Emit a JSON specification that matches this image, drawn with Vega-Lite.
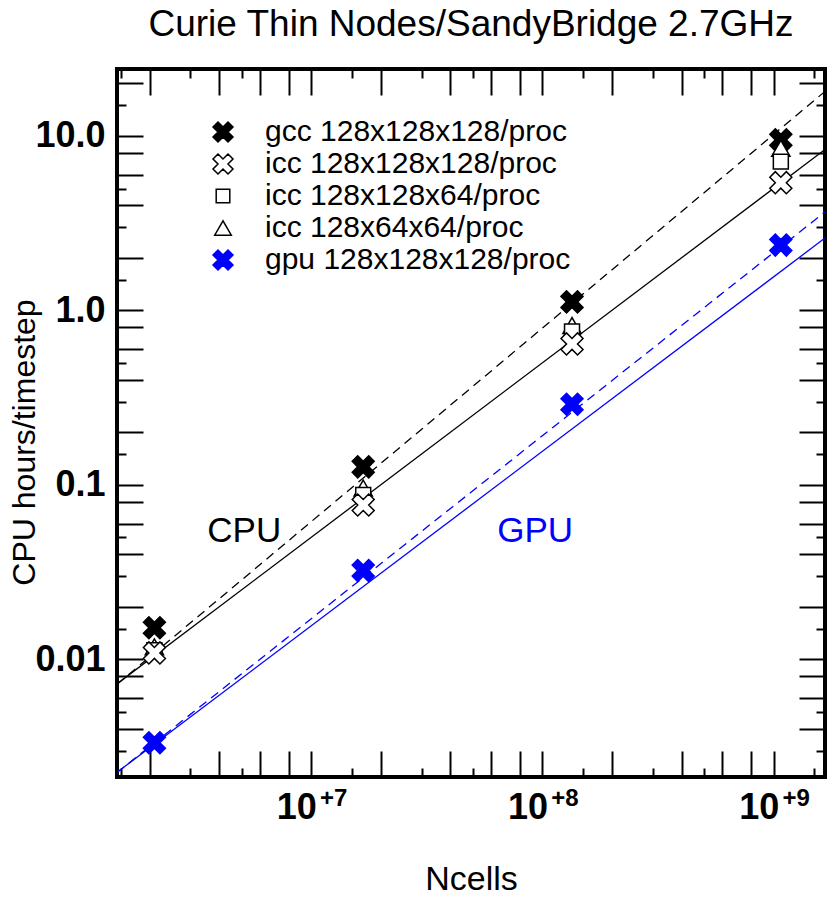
{
  "$schema": "https://vega.github.io/schema/vega-lite/v6.json",
  "width": 708,
  "height": 708,
  "autosize": {"type": "none"},
  "padding": {"left": 117, "top": 69, "right": 5, "bottom": 120},
  "background": "white",
  "config": {
    "font": "Liberation Sans",
    "view": {"stroke": "black", "strokeWidth": 4},
    "axis": {"grid": false, "domain": false, "labelColor": "black", "titleColor": "black", "tickColor": "black", "labelFlush": false, "labelOverlap": false}
  },
  "title": {"text": "Curie Thin Nodes/SandyBridge 2.7GHz", "fontSize": 37, "font": "Liberation Sans", "fontWeight": "normal", "color": "black", "anchor": "middle", "offset": 13},
  "datasets": {
    "pts": [
      {"series": "gcc 128x128x128/proc", "n": 2097152, "t": 0.0152},
      {"series": "gcc 128x128x128/proc", "n": 16777216, "t": 0.127},
      {"series": "gcc 128x128x128/proc", "n": 134217728, "t": 1.12},
      {"series": "gcc 128x128x128/proc", "n": 1073741824, "t": 9.5},
      {"series": "icc 128x64x64/proc", "n": 2097152, "t": 0.0118},
      {"series": "icc 128x64x64/proc", "n": 16777216, "t": 0.096},
      {"series": "icc 128x64x64/proc", "n": 134217728, "t": 0.82},
      {"series": "icc 128x64x64/proc", "n": 1073741824, "t": 8.5},
      {"series": "icc 128x128x64/proc", "n": 2097152, "t": 0.0113},
      {"series": "icc 128x128x64/proc", "n": 16777216, "t": 0.0877},
      {"series": "icc 128x128x64/proc", "n": 134217728, "t": 0.757},
      {"series": "icc 128x128x64/proc", "n": 1073741824, "t": 7.13},
      {"series": "icc 128x128x128/proc", "n": 2097152, "t": 0.0109},
      {"series": "icc 128x128x128/proc", "n": 16777216, "t": 0.0767},
      {"series": "icc 128x128x128/proc", "n": 134217728, "t": 0.643},
      {"series": "icc 128x128x128/proc", "n": 1073741824, "t": 5.4},
      {"series": "gpu 128x128x128/proc", "n": 2097152, "t": 0.00333},
      {"series": "gpu 128x128x128/proc", "n": 16777216, "t": 0.0323},
      {"series": "gpu 128x128x128/proc", "n": 134217728, "t": 0.29},
      {"series": "gpu 128x128x128/proc", "n": 1073741824, "t": 2.37}
    ],
    "fits": [
      {"fit": "cpu_solid", "n": 1445000, "t": 0.00724},
      {"fit": "cpu_solid", "n": 1667000000, "t": 8.36},
      {"fit": "cpu_dashed", "n": 1445000, "t": 0.0072},
      {"fit": "cpu_dashed", "n": 1667000000, "t": 18},
      {"fit": "gpu_solid", "n": 1445000, "t": 0.002254},
      {"fit": "gpu_solid", "n": 1667000000, "t": 2.6},
      {"fit": "gpu_dashed", "n": 1445000, "t": 0.00225},
      {"fit": "gpu_dashed", "n": 1667000000, "t": 3.67}
    ],
    "notes": [
      {"label": "CPU", "n": 3550000, "t": 0.0547},
      {"label": "GPU", "n": 63700000, "t": 0.0547}
    ]
  },
  "layer": [
    {
      "data": {"name": "fits"},
      "transform": [{"filter": "datum.fit === 'cpu_solid'"}],
      "mark": {"type": "line", "color": "black", "strokeWidth": 1.3, "clip": true},
      "encoding": {
        "x": {"field": "n", "type": "quantitative", "scale": {"type": "log", "domain": [1445000, 1667000000], "nice": false},
              "axis": {"orient": "bottom", "values": [2e6,4e6,6e6,8e6,1e7,2e7,4e7,6e7,8e7,1e8,2e8,4e8,6e8,8e8,1e9], "offset": -26, "ticks": true, "tickSize": 26, "tickWidth": 2, "labels": true, "labelExpr": "''", "title": ""}},
        "y": {"field": "t", "type": "quantitative", "scale": {"type": "log", "domain": [0.00212, 24.2], "nice": false},
              "axis": {"orient": "left", "values": [0.004,0.006,0.008,0.01,0.02,0.04,0.06,0.08,0.1,0.2,0.4,0.6,0.8,1,2,4,6,8,10,20], "offset": -26, "ticks": true, "tickSize": 26, "tickWidth": 2, "labels": true, "labelExpr": "''", "title": ""}}
      }
    },
    {
      "data": {"name": "fits"},
      "transform": [{"filter": "datum.fit === 'cpu_dashed'"}],
      "mark": {"type": "line", "color": "black", "strokeWidth": 1.3, "strokeDash": [9, 6], "clip": true},
      "encoding": {
        "x": {"field": "n", "type": "quantitative", "scale": {"type": "log", "domain": [1445000, 1667000000], "nice": false},
              "axis": {"orient": "bottom", "values": [1.5e6,3e6,5e6,1.5e7,3e7,5e7,1.5e8,3e8,5e8,1.5e9], "offset": -9, "ticks": true, "tickSize": 9, "tickWidth": 2, "labels": true, "labelExpr": "''", "title": ""}},
        "y": {"field": "t", "type": "quantitative", "scale": {"type": "log", "domain": [0.00212, 24.2], "nice": false},
              "axis": {"orient": "left", "values": [0.003,0.005,0.015,0.03,0.05,0.15,0.3,0.5,1.5,3,5,15], "offset": -9, "ticks": true, "tickSize": 9, "tickWidth": 2, "labels": true, "labelExpr": "''", "title": ""}}
      }
    },
    {
      "data": {"name": "fits"},
      "transform": [{"filter": "datum.fit === 'gpu_solid'"}],
      "mark": {"type": "line", "color": "#0000ff", "strokeWidth": 1.3, "clip": true},
      "encoding": {
        "x": {"field": "n", "type": "quantitative", "scale": {"type": "log", "domain": [1445000, 1667000000], "nice": false},
              "axis": {"orient": "bottom", "values": [1e7,1e8,1e9], "ticks": false, "labelExpr": "'10'", "labelFontSize": 36, "labelFontWeight": "bold", "labelPadding": 13, "labelOffset": -15,
                       "title": "Ncells", "titleFontSize": 34, "titleFontWeight": "normal", "titleX": 354, "titleY": 112, "titleBaseline": "alphabetic", "titleAlign": "center"}},
        "y": {"field": "t", "type": "quantitative", "scale": {"type": "log", "domain": [0.00212, 24.2], "nice": false},
              "axis": {"orient": "left", "values": [0.01,0.1,1,10], "ticks": false, "labelExpr": "datum.value == 10 ? '10.0' : datum.value == 1 ? '1.0' : datum.value == 0.1 ? '0.1' : '0.01'", "labelFontSize": 36, "labelFontWeight": "bold", "labelPadding": 12,
                       "title": "CPU hours/timestep", "titleFontSize": 32, "titleFontWeight": "normal", "titleX": -83, "titleY": 373, "titleBaseline": "alphabetic", "titleAlign": "center", "titleAngle": -90}}
      }
    },
    {
      "data": {"name": "fits"},
      "transform": [{"filter": "datum.fit === 'gpu_dashed'"}],
      "mark": {"type": "line", "color": "#0000ff", "strokeWidth": 1.3, "strokeDash": [9, 6], "clip": true},
      "encoding": {
        "x": {"field": "n", "type": "quantitative", "scale": {"type": "log", "domain": [1445000, 1667000000], "nice": false},
              "axis": {"orient": "bottom", "values": [1e7,1e8,1e9], "ticks": false, "labelExpr": "'+' + round(log(datum.value)/LN10)", "labelFontSize": 24, "labelFontWeight": "bold", "labelPadding": 9, "labelOffset": 22, "title": ""}},
        "y": {"field": "t", "type": "quantitative", "scale": {"type": "log", "domain": [0.00212, 24.2], "nice": false},
              "axis": {"orient": "right", "values": [0.004,0.006,0.008,0.01,0.02,0.04,0.06,0.08,0.1,0.2,0.4,0.6,0.8,1,2,4,6,8,10,20], "offset": -26, "ticks": true, "tickSize": 26, "tickWidth": 2, "labels": true, "labelExpr": "''", "title": ""}}
      }
    },
    {
      "data": {"name": "pts"},
      "mark": {"type": "point", "size": 484, "strokeWidth": 1.5, "opacity": 1, "clip": true},
      "encoding": {
        "x": {"field": "n", "type": "quantitative", "scale": {"type": "log", "domain": [1445000, 1667000000], "nice": false},
              "axis": {"orient": "top", "values": [2e6,4e6,6e6,8e6,1e7,2e7,4e7,6e7,8e7,1e8,2e8,4e8,6e8,8e8,1e9], "offset": -26, "ticks": true, "tickSize": 26, "tickWidth": 2, "labels": true, "labelExpr": "''", "title": ""}},
        "y": {"field": "t", "type": "quantitative", "scale": {"type": "log", "domain": [0.00212, 24.2], "nice": false},
              "axis": {"orient": "right", "values": [0.003,0.005,0.015,0.03,0.05,0.15,0.3,0.5,1.5,3,5,15], "offset": -9, "ticks": true, "tickSize": 9, "tickWidth": 2, "labels": true, "labelExpr": "''", "title": ""}},
        "shape": {"field": "series", "type": "nominal",
                  "scale": {"domain": ["gcc 128x128x128/proc", "icc 128x128x128/proc", "icc 128x128x64/proc", "icc 128x64x64/proc", "gpu 128x128x128/proc"],
                            "range": ["M -1,-0.5 L -0.5,-1 L 0,-0.5 L 0.5,-1 L 1,-0.5 L 0.5,0 L 1,0.5 L 0.5,1 L 0,0.5 L -0.5,1 L -1,0.5 L -0.5,0 Z",
                                      "M -1,-0.5 L -0.5,-1 L 0,-0.5 L 0.5,-1 L 1,-0.5 L 0.5,0 L 1,0.5 L 0.5,1 L 0,0.5 L -0.5,1 L -1,0.5 L -0.5,0 Z",
                                      "M -0.68,-0.68 L 0.68,-0.68 L 0.68,0.68 L -0.68,0.68 Z",
                                      "M 0,-0.72 L -0.83,0.72 L 0.83,0.72 Z",
                                      "M -1,-0.5 L -0.5,-1 L 0,-0.5 L 0.5,-1 L 1,-0.5 L 0.5,0 L 1,0.5 L 0.5,1 L 0,0.5 L -0.5,1 L -1,0.5 L -0.5,0 Z"]},
                  "legend": {"orient": "none", "legendX": 91, "legendY": 48, "title": null, "padding": 0, "labelFontSize": 30, "labelFont": "Liberation Sans", "labelColor": "black", "labelOffset": 27, "symbolSize": 400, "symbolStrokeWidth": 1.5, "rowPadding": 2, "labelLimit": 600,
                             "encode": {"labels": {"update": {"fill": {"signal": "datum.label === 'gpu 128x128x128/proc' ? '#0000ff' : '#000000'"}}}}}},
        "fill": {"field": "series", "type": "nominal",
                 "scale": {"domain": ["gcc 128x128x128/proc", "icc 128x128x128/proc", "icc 128x128x64/proc", "icc 128x64x64/proc", "gpu 128x128x128/proc"],
                           "range": ["#000000", "#ffffff", "#ffffff", "#ffffff", "#0000ff"]}},
        "stroke": {"field": "series", "type": "nominal",
                   "scale": {"domain": ["gcc 128x128x128/proc", "icc 128x128x128/proc", "icc 128x128x64/proc", "icc 128x64x64/proc", "gpu 128x128x128/proc"],
                             "range": ["#000000", "#000000", "#000000", "#000000", "#0000ff"]}}
      }
    },
    {
      "data": {"name": "notes"},
      "transform": [{"filter": "datum.label === 'CPU'"}],
      "mark": {"type": "text", "color": "black", "fontSize": 35, "font": "Liberation Sans", "align": "left", "baseline": "middle"},
      "encoding": {
        "x": {"field": "n", "type": "quantitative", "scale": {"type": "log", "domain": [1445000, 1667000000], "nice": false},
              "axis": {"orient": "top", "values": [1.5e6,3e6,5e6,1.5e7,3e7,5e7,1.5e8,3e8,5e8,1.5e9], "offset": -9, "ticks": true, "tickSize": 9, "tickWidth": 2, "labels": true, "labelExpr": "''", "title": ""}},
        "y": {"field": "t", "type": "quantitative", "scale": {"type": "log", "domain": [0.00212, 24.2], "nice": false}, "axis": null},
        "text": {"field": "label"}
      }
    },
    {
      "data": {"name": "notes"},
      "transform": [{"filter": "datum.label === 'GPU'"}],
      "mark": {"type": "text", "color": "#0000ff", "fontSize": 35, "font": "Liberation Sans", "align": "left", "baseline": "middle"},
      "encoding": {
        "x": {"field": "n", "type": "quantitative", "scale": {"type": "log", "domain": [1445000, 1667000000], "nice": false}, "axis": null},
        "y": {"field": "t", "type": "quantitative", "scale": {"type": "log", "domain": [0.00212, 24.2], "nice": false}, "axis": null},
        "text": {"field": "label"}
      }
    }
  ],
  "resolve": {"axis": {"x": "independent", "y": "independent"}}
}
